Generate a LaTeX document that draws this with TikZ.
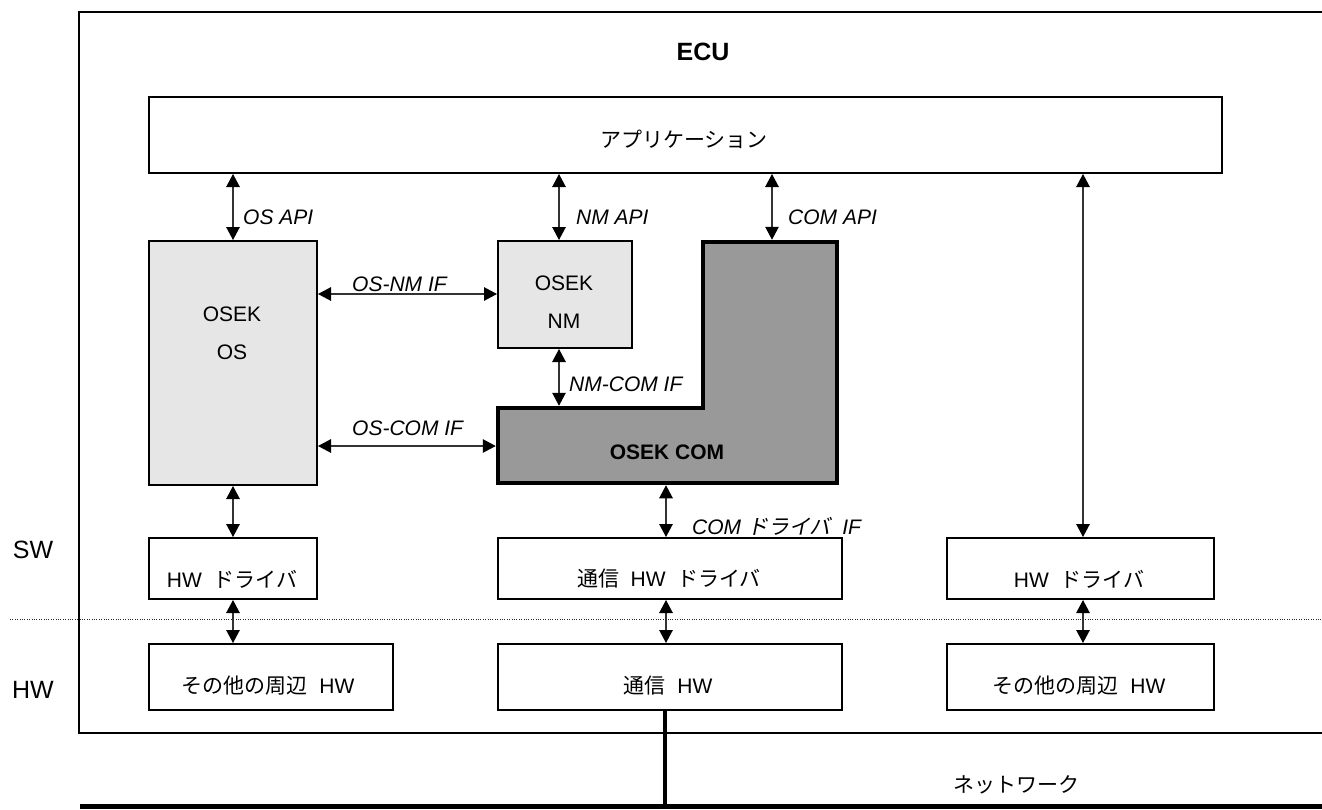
\documentclass[tikz,border=0pt]{standalone}
\usepackage{fontspec}
\setmainfont{Liberation Sans}
\newfontfamily\jp{Noto Sans CJK JP}
\newfontfamily\jpit{Noto Sans CJK JP}[FakeSlant=0.2]
\usetikzlibrary{arrows.meta}
\definecolor{lgray}{HTML}{E6E6E6}
\definecolor{dgray}{HTML}{999999}
\definecolor{arrgray}{HTML}{333333}
\begin{document}
\begin{tikzpicture}[x=1pt,y=-1pt,
  box/.style={draw=black,line width=2pt,inner sep=0pt,anchor=north west},
  txt/.style={inner sep=0pt,font=\fontsize{21}{25}\selectfont},
  itxt/.style={inner sep=0pt,font=\fontsize{21}{25}\selectfont\itshape,anchor=west},
  big/.style={inner sep=0pt,font=\fontsize{25}{30}\selectfont},
  arr/.style={draw=arrgray,line width=1.3pt,{Triangle[width=13.5pt,length=13pt,color=black]}-{Triangle[width=13.5pt,length=13pt,color=black]}},
  thickline/.style={line width=5pt,line cap=butt}]
\useasboundingbox (0,0) rectangle (1322,809);
% ECU frame
\draw[line width=2pt] (1323,12) -- (79,12) -- (79,733) -- (1323,733);
\node[big,font=\fontsize{25}{30}\selectfont\bfseries] (ecu) at (703,52) {ECU};
% side labels
\node[big] (sw) at (33,550) {SW};
\node[big] (hwl) at (33,690) {HW};
% dotted separator
\coordinate (dotL) at (10,619);
\coordinate (dotR) at (1322,619);
\draw[line width=1pt,draw=black!85,dash pattern=on 1pt off 1.4pt] (dotL) -- (dotR);
% boxes
\node[box,minimum width=1073pt,minimum height=76pt] (app) at (148,96) {};
\node[txt] (apptxt) at (684,139) {\jp アプリケーション};
\node[box,fill=lgray,minimum width=168pt,minimum height=244pt] (os) at (148,240) {};
\node[txt,align=center,font=\fontsize{21}{38}\selectfont] (ostxt) at (232,333) {OSEK\\OS};
\node[box,fill=lgray,minimum width=134pt,minimum height=107pt] (nm) at (497,240) {};
\node[txt,align=center,font=\fontsize{21}{38}\selectfont] (nmtxt) at (564,302) {OSEK\\NM};
% OSEK COM L-shape
\draw[line width=4.5pt,fill=dgray,line join=miter] (703,242) -- (837,242) -- (837,483) -- (498,483) -- (498,408) -- (703,408) -- cycle;
\node[txt,font=\fontsize{21}{25}\selectfont\bfseries] (comtxt) at (667,452) {OSEK COM};
\coordinate (comtop) at (772,239.75);
\coordinate (comstep) at (559,405.75);
\coordinate (comleft) at (495.75,446);
\coordinate (combot) at (666,485.25);
% drivers
\node[box,minimum width=168pt,minimum height=61pt] (hwd1) at (148,537) {};
\node[txt] (hwd1t) at (232,579) {HW\ \ {\jp ドライバ}};
\node[box,minimum width=344pt,minimum height=61pt] (hwd2) at (497,537) {};
\node[txt] (hwd2t) at (669,579) {{\jp 通信}\ \ HW\ \ {\jp ドライバ}};
\node[box,minimum width=267pt,minimum height=61pt] (hwd3) at (946,537) {};
\node[txt] (hwd3t) at (1079,579) {HW\ \ {\jp ドライバ}};
% hardware
\node[box,minimum width=244pt,minimum height=66pt] (hw1) at (148,643) {};
\node[txt] (hw1t) at (268,686) {{\jp その他の周辺}\ \ HW};
\node[box,minimum width=344pt,minimum height=66pt] (hw2) at (497,643) {};
\node[txt] (hw2t) at (668,686) {{\jp 通信}\ \ HW};
\node[box,minimum width=267pt,minimum height=66pt] (hw3) at (946,643) {};
\node[txt] (hw3t) at (1079,686) {{\jp その他の周辺}\ \ HW};
% x / y helpers
\coordinate (xnm) at (559,0);
\coordinate (xcomapi) at (772,0);
\coordinate (xr) at (1083,0);
\coordinate (xc) at (666,0);
\coordinate (xn) at (665,0);
\coordinate (yosnm) at (0,294);
\coordinate (yoscom) at (0,446);
% arrows
\draw[arr] (os.north |- app.south) -- (os.north);
\draw[arr] (app.south -| xnm) -- (nm.north -| xnm);
\draw[arr] (app.south -| xcomapi) -- (comtop);
\draw[arr] (app.south -| xr) -- (hwd3.north -| xr);
\draw[arr] (os.east |- yosnm) -- (nm.west |- yosnm);
\draw[arr] (os.east |- yoscom) -- (comleft);
\draw[arr] (nm.south -| xnm) -- (comstep);
\draw[arr] (os.south) -- (hwd1.north);
\draw[arr] (combot) -- (hwd2.north -| xc);
\draw[arr] (hwd1.south) -- (hwd1.south |- hw1.north);
\draw[arr] (hwd2.south -| xc) -- (hw2.north -| xc);
\draw[arr] (hwd3.south -| xr) -- (hw3.north -| xr);
% labels
\node[itxt] (l1) at (243,217) {OS API};
\node[itxt] (l2) at (576,217) {NM API};
\node[itxt] (l3) at (788,217) {COM API};
\node[itxt] (l4) at (352,284) {OS-NM IF};
\node[itxt] (l5) at (352,428) {OS-COM IF};
\node[itxt] (l6) at (569,384) {NM-COM IF};
\node[itxt] (l7) at (692,526) {COM\ {\jpit ドライバ}\ \ IF};
% network
\coordinate (netL) at (80,806.5);
\coordinate (netR) at (1322,806.5);
\draw[thickline] (netL) -- (netR);
\draw[line width=4.5pt] (hw2.south -| xn) -- (netL -| xn);
\node[txt] (nettxt) at (1016,785) {\jp ネットワーク};
\end{tikzpicture}
\end{document}
